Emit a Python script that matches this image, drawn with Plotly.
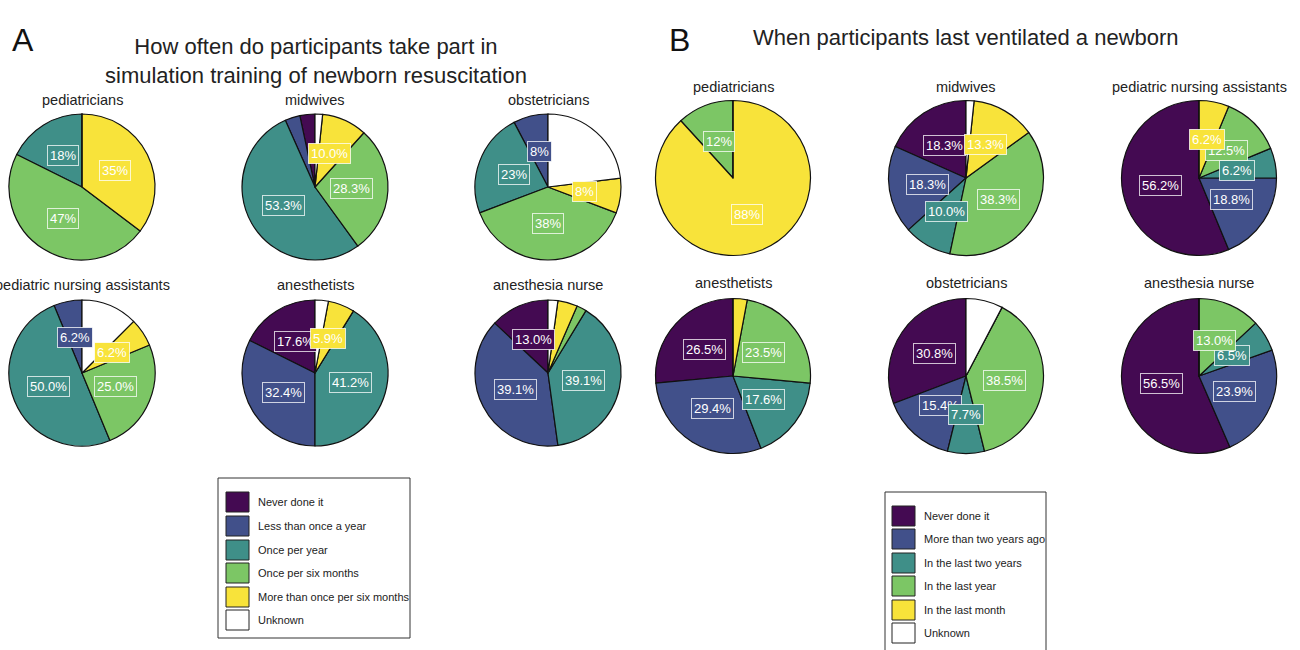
import math
import plotly.graph_objects as go

W, H = 1300, 650

# ---------------- data ----------------
cats_a = ["Never done it", "Less than once a year", "Once per year",
          "Once per six months", "More than once per six months", "Unknown"]
cats_b = ["Never done it", "More than two years ago", "In the last two years",
          "In the last year", "In the last month", "Unknown"]

groups_a = ["pediatricians", "midwives", "obstetricians",
            "pediatric nursing assistants", "anesthetists", "anesthesia nurse"]
counts_a = [
    [0, 0, 3, 8, 6, 0],
    [2, 2, 32, 17, 6, 1],
    [0, 1, 3, 5, 1, 3],
    [0, 1, 8, 4, 1, 2],
    [6, 11, 14, 0, 2, 1],
    [6, 18, 18, 1, 2, 1],
]
decimals_a = [0, 1, 0, 1, 1, 1]

groups_b = ["pediatricians", "midwives", "pediatric nursing assistants",
            "anesthetists", "obstetricians", "anesthesia nurse"]
counts_b = [
    [0, 0, 0, 2, 15, 0],
    [11, 11, 6, 23, 8, 1],
    [9, 3, 1, 2, 1, 0],
    [9, 10, 6, 8, 1, 0],
    [4, 2, 1, 5, 0, 1],
    [26, 11, 3, 6, 0, 0],
]
decimals_b = [0, 1, 1, 1, 1, 1]

title_a = "How often do participants take part in<br>simulation training of newborn resuscitation"
title_b = "When participants last ventilated a newborn"

colors = ["#440a52", "#41508a", "#3f8f88", "#7cc665", "#f8e33a", "#ffffff"]

# ---------------- layout helpers (pixels -> paper) ----------------
def px(x):
    return x / W

def py(y):
    return 1 - y / H

# pie grid geometry (pixels)
pos_a = [(82, 187), (315, 187), (548, 187), (82, 373), (315, 373), (548, 373)]
r_a = 73
tit_a = [100, 100, 100, 285, 285, 285]
pos_b = [(733, 178), (966, 178), (1199, 178), (733, 376), (966, 376), (1199, 376)]
r_b = 77.5
tit_b = [87, 87, 87, 283, 283, 283]

fig = go.Figure()
annotations = []
shapes = []


def centered(text, x, y, size, color="#222222", **kw):
    d = dict(text=text, x=px(x), y=py(y), xref="paper", yref="paper",
             xanchor="center", yanchor="middle", showarrow=False,
             font=dict(size=size, color=color))
    d.update(kw)
    return d


def add_panel(cats, groups, counts, decimals, positions, r, title_ys):
    for g, cnt, dec, (cx, cy), ty in zip(groups, counts, decimals, positions, title_ys):
        total = sum(cnt)
        # first slice starts at 12 o'clock and slices follow counter-clockwise
        rot = -360.0 * cnt[0] / total
        fig.add_trace(go.Pie(
            labels=cats, values=cnt, sort=False, direction="counterclockwise",
            rotation=rot, textinfo="none", hoverinfo="label+percent",
            marker=dict(colors=colors, line=dict(color="#111111", width=1.2)),
            domain=dict(x=[px(cx - r), px(cx + r)], y=[py(cy + r), py(cy - r)]),
            showlegend=False,
        ))
        annotations.append(centered(g, cx, ty, 14.5))
        start = 90.0
        for i, v in enumerate(cnt):
            pct = 100.0 * v / total
            ang = 360.0 * v / total
            mid = math.radians(start + ang / 2)
            start += ang
            if pct < 5 or colors[i] == "#ffffff":
                continue
            lx = cx + 0.5 * r * math.cos(mid)
            ly = cy - 0.5 * r * math.sin(mid)
            annotations.append(centered(
                f"{pct:.{dec}f}%", lx, ly, 13, color="white",
                bgcolor=colors[i], bordercolor="rgba(255,255,255,0.75)",
                borderwidth=1, borderpad=2))


add_panel(cats_a, groups_a, counts_a, decimals_a, pos_a, r_a, tit_a)
add_panel(cats_b, groups_b, counts_b, decimals_b, pos_b, r_b, tit_b)

# panel headings
annotations += [
    centered("A", 23, 40, 32, color="#111111"),
    centered("B", 679, 40, 32, color="#111111"),
    centered(title_a, 316, 61, 22),
    centered(title_b, 966, 38, 22),
]


def add_legend(cats, box, sq_x, txt_x, ys):
    x0, y0, x1, y1 = box
    shapes.append(dict(type="rect", xref="paper", yref="paper",
                       x0=px(x0), x1=px(x1), y0=py(y1), y1=py(y0),
                       line=dict(color="#333333", width=1), fillcolor="white"))
    for c, col, yy in zip(cats, colors, ys):
        shapes.append(dict(type="rect", xref="paper", yref="paper",
                           x0=px(sq_x), x1=px(sq_x + 23), y0=py(yy + 10), y1=py(yy - 10),
                           line=dict(color="#222222", width=1), fillcolor=col))
        annotations.append(dict(text=c, x=px(txt_x), y=py(yy), xref="paper", yref="paper",
                                xanchor="left", yanchor="middle", showarrow=False,
                                font=dict(size=11, color="#222222")))


add_legend(cats_a, (218, 478, 410, 638), 226, 256, [502, 526, 550, 573, 597, 620])
add_legend(cats_b, (885, 492, 1046, 662), 892, 922, [516, 539, 563, 586, 610, 633])

fig.update_layout(
    width=W, height=H, margin=dict(l=0, r=0, t=0, b=0),
    paper_bgcolor="white", plot_bgcolor="white",
    font=dict(family="Liberation Sans, Arial, sans-serif"),
    annotations=annotations, shapes=shapes,
)

fig.write_html("out.html", config={"displayModeBar": False},
               post_script="document.body.style.margin='0px';")
